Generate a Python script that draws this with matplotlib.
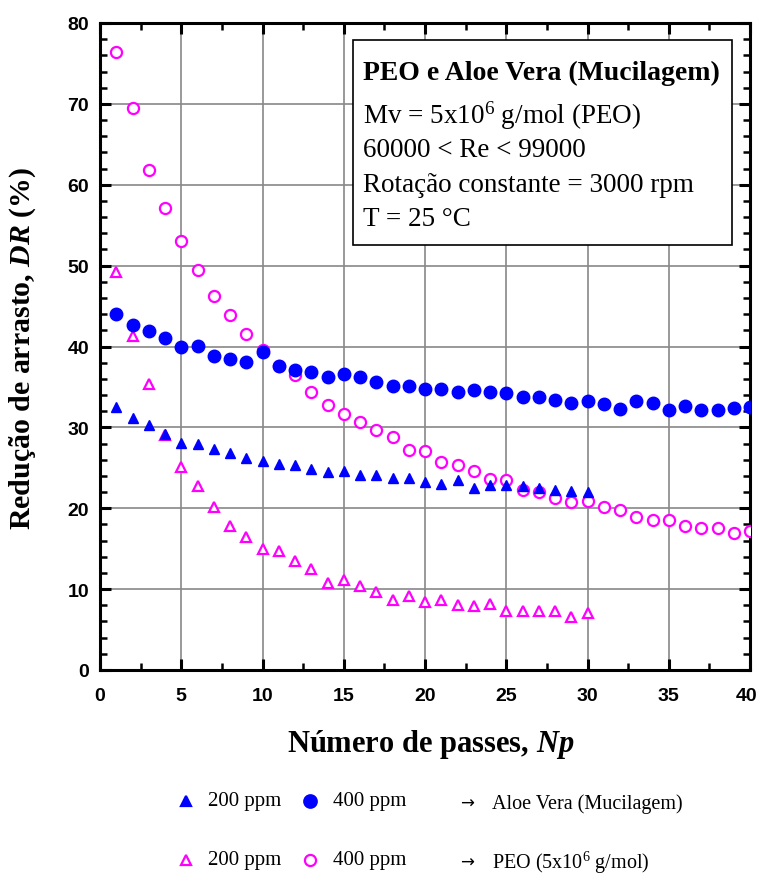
import matplotlib
matplotlib.use("Agg")
import matplotlib.pyplot as plt
import matplotlib.transforms as mtransforms
from matplotlib.patches import Rectangle
from matplotlib.ticker import MultipleLocator

# data
np_passes_30 = list(range(1, 31))
np_passes_40 = list(range(1, 41))

aloe_200 = [32.5, 31.2, 30.3, 29.2, 28.1, 27.9, 27.3, 26.8, 26.2, 25.9,
            25.5, 25.3, 24.8, 24.5, 24.6, 24.1, 24.1, 23.7, 23.8, 23.2,
            23.0, 23.5, 22.5, 22.9, 22.9, 22.7, 22.5, 22.2, 22.1, 22.0]
aloe_400 = [44.0, 42.6, 41.9, 41.0, 40.0, 40.1, 38.8, 38.5, 38.1, 39.3,
            37.6, 37.1, 36.8, 36.2, 36.6, 36.2, 35.6, 35.1, 35.1, 34.8,
            34.7, 34.4, 34.6, 34.4, 34.3, 33.7, 33.8, 33.4, 33.0, 33.2,
            32.9, 32.3, 33.2, 33.0, 32.2, 32.7, 32.1, 32.2, 32.4, 32.5]
peo_200 = [49.2, 41.3, 35.4, 29.1, 25.1, 22.7, 20.2, 17.8, 16.4, 15.0,
           14.7, 13.5, 12.5, 10.8, 11.1, 10.4, 9.6, 8.6, 9.1, 8.4,
           8.7, 8.0, 7.9, 8.1, 7.3, 7.3, 7.3, 7.3, 6.6, 7.1]
peo_400 = [76.4, 69.5, 61.8, 57.1, 53.0, 49.4, 46.2, 43.9, 41.5, 39.6,
           37.6, 36.5, 34.4, 32.8, 31.6, 30.7, 29.7, 28.8, 27.2, 27.1,
           25.7, 25.3, 24.6, 23.6, 23.5, 22.2, 22.0, 21.3, 20.8, 20.9,
           20.2, 19.8, 18.9, 18.5, 18.6, 17.8, 17.5, 17.6, 16.9, 17.2]

x_ticks = [0, 5, 10, 15, 20, 25, 30, 35, 40]
box_lines = ["Mv = 5x10$^6$ g/mol (PEO)", "60000 < Re < 99000",
             "Rotação constante = 3000 rpm", "T = 25 °C"]

plt.rcParams['mathtext.fontset'] = 'custom'
plt.rcParams['mathtext.rm'] = 'Liberation Serif'
plt.rcParams['mathtext.it'] = 'Liberation Serif:italic'
plt.rcParams['mathtext.bf'] = 'Liberation Serif:bold'
plt.rcParams['mathtext.bfit'] = 'Liberation Serif:bold:italic'

W, H = 759, 879
fig = plt.figure(figsize=(W / 100, H / 100), dpi=100)
ax = fig.add_axes([100 / W, 1 - 671 / H, 650 / W, 647 / H])

blue = '#0000FF'
pink = '#FF00FF'

ax.plot(np_passes_40, peo_400, 'o', mfc='white', mec=pink, mew=1.6, ms=8, ls='none', zorder=3)
ax.plot(np_passes_30, peo_200, '^', mfc='white', mec=pink, mew=1.6, ms=7, ls='none', zorder=3)
ax.plot(np_passes_40, aloe_400, 'o', color=blue, ms=9, ls='none', zorder=4)
ax.plot(np_passes_30, aloe_200, '^', color=blue, ms=7.5, ls='none', zorder=4)

ax.set_xlim(0, 40)
ax.set_ylim(0, 80)
# last label is drawn by hand so it can sit a bit inside the figure edge
ax.set_xticks(x_ticks, labels=[str(t) for t in x_ticks[:-1]] + [''])
ax.xaxis.set_minor_locator(MultipleLocator(2.5))
ax.yaxis.set_major_locator(MultipleLocator(10))
ax.yaxis.set_minor_locator(MultipleLocator(2))
ax.grid(True, which='major', color='#888888', lw=1.2)
ax.set_axisbelow(True)
ax.tick_params(which='both', direction='in', top=True, right=True, color='black')
ax.tick_params(which='major', length=8, width=2.2)
ax.tick_params(axis='y', which='major', pad=8)
ax.tick_params(axis='x', which='major', pad=12)
ax.tick_params(which='minor', length=5, width=1.8)
for s in ax.spines.values():
    s.set_linewidth(2.2)

for lab in ax.get_xticklabels() + ax.get_yticklabels():
    lab.set_family('Liberation Sans')
    lab.set_fontweight('bold')
    lab.set_fontsize(14)

trans = mtransforms.offset_copy(ax.get_xaxis_transform(), fig=fig, x=-3, y=-12 * 100 / 72,
                                units='dots')
ax.text(x_ticks[-1], 0, str(x_ticks[-1]), transform=trans, ha='center', va='top',
        family='Liberation Sans', fontweight='bold', fontsize=14, clip_on=False)

fig.text(23 / W, 1 - 348 / H, r'Redução de arrasto, $\mathbfit{DR}$ (%)', rotation=90,
         ha='center', va='center', family='Liberation Serif', fontweight='bold', fontsize=21.5)
fig.text(431 / W, 1 - 745 / H, r'Número de passes, $\mathbfit{Np}$',
         ha='center', va='center', family='Liberation Serif', fontweight='bold', fontsize=22)

# info box
fig.patches.append(Rectangle((353 / W, 1 - 246 / H), 379 / W, 205 / H, transform=fig.transFigure,
                             facecolor='white', edgecolor='black', lw=1.2, zorder=5))
fig.text(363 / W, 1 - 73 / H, 'PEO e Aloe Vera (Mucilagem)', ha='left', va='center',
         family='Liberation Serif', fontweight='bold', fontsize=20, zorder=6)
for i, line in enumerate(box_lines):
    fig.text(363 / W, 1 - (116 + 34.5 * i) / H, line, ha='left', va='center',
             family='Liberation Serif', fontsize=19.5, zorder=6)

# legend below the plot
rows = [(802, blue, 'Aloe Vera (Mucilagem)', True),
        (861, pink, 'PEO (5x10$^6$ g/mol)', False)]
for y, col, name, filled in rows:
    yf = 1 - y / H
    fc = col if filled else 'white'
    fig.add_artist(plt.Line2D([186 / W], [yf], marker='^', ms=7.5 if filled else 7, mfc=fc,
                              mec=col, mew=1.6, ls='none', transform=fig.transFigure))
    fig.add_artist(plt.Line2D([310 / W], [yf], marker='o', ms=9 if filled else 8, mfc=fc,
                              mec=col, mew=1.6, ls='none', transform=fig.transFigure))
    fig.text(208 / W, yf, '200 ppm', ha='left', va='center', family='Liberation Serif', fontsize=15)
    fig.text(333 / W, yf, '400 ppm', ha='left', va='center', family='Liberation Serif', fontsize=15)
    fig.text(467 / W, yf - 2 / H, '→', ha='center', va='center', family='DejaVu Sans', fontsize=12)
    fig.text(492 / W, yf - 2 / H, name, ha='left', va='center', family='Liberation Serif', fontsize=14.5)

fig.savefig('out.png', dpi=100)
